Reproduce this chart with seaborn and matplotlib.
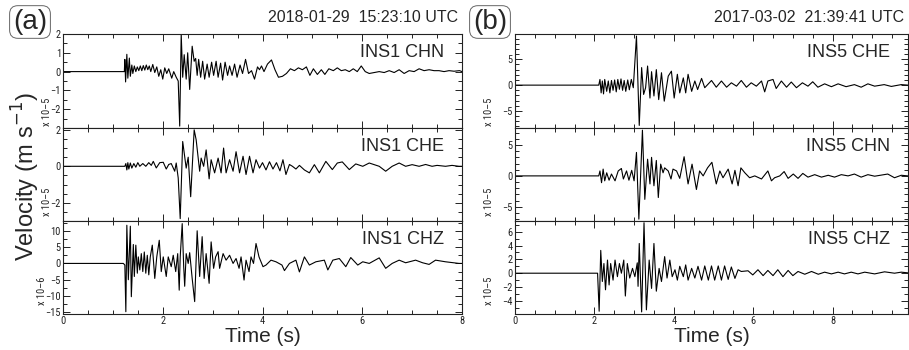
import numpy as np
import pandas as pd
import seaborn as sns
import matplotlib.pyplot as plt
from matplotlib import font_manager
from matplotlib.ticker import MultipleLocator, FixedLocator

# ---- panel (a): 2018-01-29, station INS1 ----
a_chn_t = [0.0, 1.23, 1.24, 1.255, 1.28, 1.30, 1.33, 1.35, 1.38, 1.40, 1.43, 1.46, 1.49, 1.52, 1.55,
           1.58, 1.61, 1.64, 1.67, 1.70, 1.73, 1.76, 1.80, 1.84, 1.88, 1.92, 1.96, 2.00, 2.04, 2.08,
           2.12, 2.18, 2.22, 2.27, 2.31, 2.34, 2.37, 2.40, 2.43, 2.47, 2.50, 2.54, 2.59, 2.63, 2.66,
           2.69, 2.72, 2.76, 2.80, 2.84, 2.89, 2.93, 2.98, 3.02, 3.07, 3.11, 3.16, 3.20, 3.25, 3.30,
           3.34, 3.39, 3.44, 3.49, 3.55, 3.60, 3.66, 3.72, 3.78, 3.84, 3.90, 3.94, 3.98, 4.03, 4.10,
           4.18, 4.25, 4.32, 4.40, 4.48, 4.56, 4.64, 4.72, 4.80, 4.88, 4.95, 5.02, 5.10, 5.18, 5.25,
           5.33, 5.42, 5.50, 5.58, 5.66, 5.74, 5.82, 5.90, 5.98, 6.06, 6.14, 6.24, 6.34, 6.44, 6.54,
           6.64, 6.74, 6.84, 6.94, 7.04, 7.14, 7.24, 7.34, 7.44, 7.54, 7.64, 7.74, 7.84, 7.95, 8.0]
a_chn_v = [0.0, 0.0, 0.65, -0.55, 0.92, -0.35, 0.72, -0.25, 0.35, -0.1, 0.3, 0.0, 0.25, 0.05, 0.3,
           0.05, 0.32, 0.08, 0.35, 0.1, 0.3, 0.0, 0.38, -0.05, 0.25, -0.25, 0.1, -0.4, 0.2, -0.1,
           0.15, -0.35, 0.0, -0.3, -0.5, -2.9, 2.0, -0.3, 0.9, -0.4, 1.0, -0.95, 1.35, 0.55, 0.7,
           -0.2, 0.65, -0.3, 0.55, -0.4, 0.4, -0.3, 0.5, -0.2, 0.55, -0.3, 0.45, -0.45, 0.5, -0.2,
           0.3, -0.2, 0.4, -0.3, 0.35, -0.1, 0.65, -0.1, 0.05, -0.4, 0.25, 0.1, 0.3, 0.0, 0.4,
           0.62, 0.1, -0.3, -0.25, -0.1, 0.15, 0.05, 0.2, 0.1, 0.25, -0.2, 0.15, -0.15, 0.1, -0.15,
           0.15, 0.05, 0.2, 0.05, 0.1, 0.0, 0.15, 0.0, 0.3, 0.0, -0.1, -0.05, 0.0, -0.05, 0.05,
           -0.05, 0.1, -0.1, 0.05, 0.0, 0.15, 0.05, 0.1, 0.05, 0.05, 0.0, 0.05, 0.02, 0.05, 0.0]

a_che_t = [0.0, 1.24, 1.26, 1.28, 1.30, 1.32, 1.35, 1.38, 1.42, 1.46, 1.50, 1.54, 1.60, 1.66, 1.72,
           1.77, 1.81, 1.87, 1.94, 2.01, 2.07, 2.12, 2.17, 2.24, 2.27, 2.31, 2.35, 2.40, 2.47, 2.51,
           2.56, 2.63, 2.67, 2.74, 2.77, 2.82, 2.87, 2.93, 2.97, 3.04, 3.11, 3.17, 3.22, 3.27, 3.34,
           3.41, 3.47, 3.54, 3.61, 3.67, 3.74, 3.81, 3.87, 3.94, 4.00, 4.07, 4.14, 4.21, 4.28, 4.35,
           4.41, 4.47, 4.54, 4.60, 4.67, 4.74, 4.84, 4.94, 5.04, 5.14, 5.27, 5.40, 5.50, 5.60, 5.74,
           5.87, 6.01, 6.14, 6.34, 6.47, 6.60, 6.74, 6.87, 7.00, 7.14, 7.27, 7.40, 7.50, 7.67, 7.80,
           7.94, 8.0]
a_che_v = [0.0, 0.0, 0.15, -0.2, 0.2, -0.15, 0.18, -0.1, 0.15, -0.05, 0.2, 0.0, 0.15, 0.0, 0.2,
           0.05, 0.27, -0.09, 0.2, 0.22, -0.15, 0.1, 0.15, -0.27, 0.18, -0.64, -2.87, 1.36, -0.1, 0.5,
           -1.67, 2.0, 1.45, -0.27, 0.45, 0.0, 0.9, -0.69, 0.36, -0.36, 0.45, -0.36, 1.0, -0.36, 0.36,
           -0.27, 0.8, -0.36, 0.55, -0.45, 0.55, -0.36, 0.36, -0.1, 0.2, -0.2, 0.25, -0.15, 0.2, -0.25,
           0.36, -0.45, 0.1, 0.0, -0.15, 0.05, -0.2, -0.36, 0.09, -0.36, 0.27, -0.18, 0.18, 0.24, -0.18,
           0.13, 0.0, 0.18, 0.0, -0.27, 0.0, 0.18, 0.0, 0.09, 0.0, 0.1, 0.0, 0.05, 0.0, 0.05,
           0.0, 0.0]

a_chz_t = [0.0, 1.21, 1.24, 1.26, 1.28, 1.31, 1.35, 1.37, 1.41, 1.43, 1.46, 1.49, 1.51, 1.54, 1.57,
           1.60, 1.63, 1.66, 1.69, 1.72, 1.75, 1.79, 1.84, 1.88, 1.93, 1.97, 2.01, 2.07, 2.11, 2.17,
           2.21, 2.26, 2.30, 2.33, 2.35, 2.39, 2.42, 2.44, 2.47, 2.51, 2.54, 2.59, 2.64, 2.69, 2.74,
           2.79, 2.83, 2.87, 2.93, 2.97, 3.02, 3.06, 3.11, 3.14, 3.21, 3.27, 3.34, 3.41, 3.47, 3.53,
           3.57, 3.63, 3.67, 3.73, 3.77, 3.82, 3.87, 3.93, 4.01, 4.07, 4.17, 4.27, 4.39, 4.44, 4.54,
           4.67, 4.74, 4.84, 4.94, 5.07, 5.24, 5.31, 5.41, 5.54, 5.67, 5.77, 5.91, 6.01, 6.14, 6.34,
           6.47, 6.60, 6.74, 6.87, 7.07, 7.21, 7.34, 7.47, 7.67, 7.94, 8.0]
a_chz_v = [0.0, 0.0, -0.5, -14.8, 11.7, -5.0, 11.4, -10.2, 5.8, -4.0, 5.6, -3.0, 2.0, -2.0, 3.0,
           -2.5, 3.5, -3.0, 2.5, -3.5, 2.0, 5.6, -4.6, 2.0, 7.1, -2.5, 2.0, -4.0, 2.0, -1.0,
           2.5, -2.5, 3.0, -8.2, 2.0, 12.2, -1.0, -7.0, 3.0, 0.0, 3.3, -4.6, -11.7, 10.0, -4.0,
           8.2, -4.6, 3.0, -6.1, 6.6, -1.5, 2.0, 3.6, -1.5, 3.0, 1.0, 2.5, 0.0, 1.5, -1.5,
           2.0, -5.1, 1.0, -2.5, 2.0, 0.0, 6.1, 2.0, -1.0, -0.5, 1.0, 0.5, -0.5, -2.2, 0.0,
           1.0, -2.6, 2.0, -0.5, 0.5, 1.0, -2.0, 1.0, 1.5, -1.0, 1.8, -0.5, 0.5, 0.0, 1.7,
           -1.5, 0.0, 1.0, 0.2, 1.0, 0.2, -0.3, 1.0, 0.5, 0.0, 0.0]

# ---- panel (b): 2017-03-02, station INS5 ----
b_che_t = [0.0, 2.11, 2.14, 2.17, 2.20, 2.23, 2.26, 2.31, 2.35, 2.39, 2.43, 2.47, 2.51, 2.55, 2.59,
           2.63, 2.67, 2.71, 2.75, 2.79, 2.84, 2.88, 2.93, 2.98, 3.06, 3.13, 3.19, 3.24, 3.29, 3.34,
           3.40, 3.44, 3.50, 3.56, 3.62, 3.69, 3.76, 3.86, 3.94, 4.01, 4.09, 4.15, 4.24, 4.30, 4.36,
           4.45, 4.53, 4.60, 4.70, 4.78, 4.95, 5.07, 5.20, 5.33, 5.45, 5.58, 5.70, 5.83, 5.95, 6.08,
           6.21, 6.29, 6.37, 6.50, 6.58, 6.71, 6.84, 6.96, 7.09, 7.24, 7.38, 7.50, 7.63, 7.80, 7.97,
           8.14, 8.34, 8.55, 8.72, 8.89, 9.06, 9.30, 9.48, 9.73, 9.9]
b_che_v = [0.0, 0.0, 1.1, -1.5, 0.8, -1.7, 1.1, -1.2, 0.8, -1.5, 0.9, -1.0, 1.0, -1.3, 1.1,
           -0.8, 1.2, -1.0, 0.9, -1.2, 1.0, -0.9, 1.1, -0.5, 9.5, -7.8, 3.4, -1.8, -0.5, 3.7,
           -2.5, 2.6, -2.1, 3.0, -2.8, 2.4, -3.1, 1.75, 2.7, -2.5, 2.1, -1.5, 1.4, -1.5, 2.1,
           -1.2, 0.8, -0.85, 1.3, -0.5, 0.9, -0.4, 0.8, -0.4, 0.45, -0.2, 0.9, -0.4, 0.45, -0.2,
           0.8, -1.3, 0.8, 1.1, -0.65, 0.8, -0.4, 0.6, -0.5, 0.45, -0.2, 0.65, -0.4, 0.25, -0.3,
           0.25, -0.3, 0.1, -0.4, 0.25, -0.2, 0.1, -0.25, 0.1, 0.0]

b_chn_t = [0.0, 2.11, 2.14, 2.18, 2.22, 2.26, 2.31, 2.37, 2.43, 2.52, 2.60, 2.68, 2.73, 2.81, 2.87,
           2.94, 3.00, 3.06, 3.12, 3.21, 3.27, 3.34, 3.40, 3.44, 3.50, 3.56, 3.61, 3.67, 3.73, 3.77,
           3.86, 3.93, 3.98, 4.07, 4.15, 4.26, 4.36, 4.46, 4.57, 4.65, 4.74, 4.85, 4.96, 5.07, 5.16,
           5.24, 5.37, 5.47, 5.54, 5.62, 5.69, 5.79, 5.91, 6.04, 6.21, 6.37, 6.46, 6.54, 6.67, 6.78,
           6.88, 7.01, 7.13, 7.25, 7.38, 7.55, 7.72, 7.89, 8.05, 8.22, 8.39, 8.55, 8.72, 8.89, 9.06,
           9.39, 9.56, 9.73, 9.9]
b_chn_v = [0.0, 0.0, 0.8, -1.1, 1.1, -0.8, 0.5, -0.7, 0.3, -0.8, 0.8, 1.2, -0.5, 0.8, -0.7,
           0.9, -0.8, 3.8, -7.0, 7.4, -3.8, 2.7, -1.3, 3.0, -1.6, 2.5, -3.5, 1.9, 0.5, 1.3,
           0.8, -0.5, 1.1, 0.8, -0.4, 3.1, -1.3, 1.9, -2.2, 0.8, 0.0, 1.3, 2.2, -1.3, 0.8,
           -0.3, 1.1, -1.3, 0.9, -1.6, 1.3, 0.5, -0.3, 0.0, -0.5, 0.8, -0.8, -0.3, 0.0, 0.7,
           -0.4, 0.3, -0.4, 0.4, -0.2, 0.2, -0.2, 0.1, -0.2, 0.2, 0.0, 0.3, -0.2, 0.2, -0.05,
           0.3, -0.3, 0.1, 0.0]

b_chz_t = [0.0, 2.08, 2.12, 2.16, 2.20, 2.24, 2.28, 2.33, 2.37, 2.41, 2.47, 2.52, 2.58, 2.63, 2.68,
           2.74, 2.78, 2.83, 2.89, 2.96, 3.02, 3.08, 3.10, 3.13, 3.19, 3.25, 3.31, 3.38, 3.44, 3.50,
           3.56, 3.63, 3.69, 3.77, 3.83, 3.90, 3.96, 4.03, 4.09, 4.15, 4.24, 4.30, 4.36, 4.45, 4.53,
           4.61, 4.70, 4.78, 4.87, 4.95, 5.03, 5.12, 5.20, 5.28, 5.37, 5.45, 5.54, 5.62, 5.70, 5.87,
           5.99, 6.12, 6.25, 6.37, 6.50, 6.62, 6.75, 6.88, 7.00, 7.13, 7.30, 7.47, 7.64, 7.80, 7.97,
           8.14, 8.30, 8.47, 8.64, 8.81, 9.06, 9.31, 9.56, 9.73, 9.9]
b_chz_v = [0.0, 0.0, -5.5, 3.3, -1.2, 1.4, -2.4, 1.9, -1.7, 1.4, -1.0, 1.9, -0.5, 1.4, 0.0,
           1.9, -3.3, 1.4, -0.7, 0.7, -0.5, 1.5, -1.9, 4.3, -5.6, 7.3, -5.3, 1.9, -2.2, 4.3,
           -2.6, 0.7, -1.2, 2.4, -0.7, 1.9, -0.5, 0.5, -1.0, 1.0, -0.5, 1.2, -1.0, 0.7, -0.7,
           1.0, -1.0, 1.05, -1.0, 1.05, -1.0, 1.05, -1.0, 1.05, -0.9, 0.9, -0.75, 0.5, 0.25, 0.35,
           -0.25, 0.5, -0.35, 0.4, -0.35, 0.5, -0.5, 0.4, -0.35, 0.25, -0.15, 0.25, -0.15, 0.15, -0.1,
           0.15, -0.1, 0.15, -0.1, 0.15, -0.1, 0.2, 0.0, 0.15, 0.05]

panels = [
    {
        'tag': '(a)', 'date': '2018-01-29  15:23:10 UTC', 'xmax': 8.0,
        'traces': [
            ('INS1 CHN', a_chn_t, a_chn_v, (-3.0, 2.0), [2, 1, 0, -1, -2], 0.5, 'x 10\u20135'),
            ('INS1 CHE', a_che_t, a_che_v, (-3.0, 2.1), [2, 0, -2], 0.5, 'x 10\u20135'),
            ('INS1 CHZ', a_chz_t, a_chz_v, (-15.5, 13.0), [10, 5, 0, -5, -10, -15], 2.5, 'x 10\u20136'),
        ],
    },
    {
        'tag': '(b)', 'date': '2017-03-02  21:39:41 UTC', 'xmax': 9.9,
        'traces': [
            ('INS5 CHE', b_che_t, b_che_v, (-8.3, 9.9), [5, 0, -5], 1.0, 'x 10\u20135'),
            ('INS5 CHN', b_chn_t, b_chn_v, (-7.3, 7.75), [5, 0, -5], 1.0, 'x 10\u20135'),
            ('INS5 CHZ', b_chz_t, b_chz_v, (-5.9, 7.55), [6, 4, 2, 0, -2, -4], 1.0, 'x 10\u20135'),
        ],
    },
]


def pick_family(candidates):
    # first family that is really installed, so tick labels come out condensed
    for name in candidates:
        try:
            font_manager.findfont(font_manager.FontProperties(family=name),
                                  fallback_to_default=False)
            return name
        except ValueError:
            continue
    return 'DejaVu Sans'


sns.set_theme(style='ticks')
plt.rcParams['font.family'] = ['Liberation Sans', 'DejaVu Sans']
plt.rcParams['axes.linewidth'] = 0.8
narrow = [pick_family(['Liberation Sans Narrow', 'DejaVu Sans Condensed', 'Roboto Condensed',
                       'Open Sans Condensed']), 'DejaVu Sans']
narrow_stretch = 'normal' if narrow[0] != 'DejaVu Sans' else 'condensed'

fig = plt.figure(figsize=(9.09, 3.5), dpi=100)
W, H = 909.0, 350.0

col_left = [63, 515]
col_right = [462, 908]
row_tops = [34, 128, 221]
row_bots = [128, 221, 314]
# x position (pixels) of the rotated multiplier label, per column and row
scale_x = [[47, 47, 42], [489, 489, 489]]
scale_y = [0.02, 0.05, 0.10]

for ci, panel in enumerate(panels):
    x0, x1 = col_left[ci], col_right[ci]
    for ri, (name, t, v, ylim, yticks, yminor, scale) in enumerate(panel['traces']):
        y_top, y_bot = row_tops[ri], row_bots[ri]
        ax = fig.add_axes([x0 / W, 1 - y_bot / H, (x1 - x0) / W, (y_bot - y_top) / H])
        df = pd.DataFrame({'t': t, 'v': v})
        sns.lineplot(data=df, x='t', y='v', ax=ax, color='black', linewidth=0.8,
                     sort=False, estimator=None)
        ax.set_xlim(0, panel['xmax'])
        ax.set_ylim(*ylim)
        ax.set_xlabel('')
        ax.set_ylabel('')
        ax.xaxis.set_major_locator(MultipleLocator(2))
        ax.xaxis.set_minor_locator(MultipleLocator(0.5))
        ax.yaxis.set_major_locator(FixedLocator(yticks))
        ax.yaxis.set_minor_locator(MultipleLocator(yminor))
        ax.tick_params(which='both', direction='in', top=True, right=True, width=0.7,
                       colors='#222222', labelsize=7.5, pad=1.5)
        ax.tick_params(which='major', length=5)
        ax.tick_params(which='minor', length=3)
        for lab in ax.get_yticklabels() + ax.get_xticklabels():
            lab.set_family(narrow)
            lab.set_stretch(narrow_stretch)
        if ri < 2:
            ax.set_xticklabels([])
        for s in ax.spines.values():
            s.set_color('#222222')
        ax.text(0.955, 0.80, name, transform=ax.transAxes, ha='right', va='center', fontsize=13)
        # multiplier label rotated next to the y tick labels
        ax.text((scale_x[ci][ri] - x0) / (x1 - x0), scale_y[ri], scale, transform=ax.transAxes,
                rotation=90, ha='center', va='bottom', fontsize=7.5, family=narrow,
                stretch=narrow_stretch)

    # panel tag and date
    tag_x = 30 if ci == 0 else 490
    fig.text(tag_x / W, 1 - 22 / H, panel['tag'], ha='center', va='center', fontsize=20,
             bbox=dict(boxstyle='round,pad=0.12,rounding_size=0.3', fc='white', ec='#666666', lw=0.7))
    fig.text((x1 - 4) / W, 1 - 17 / H, panel['date'], ha='right', va='center', fontsize=11.5)
    fig.text(((x0 + x1) / 2) / W, 1 - 336 / H, 'Time (s)', ha='center', va='center', fontsize=15)

fig.text(26 / W, 1 - 176 / H, 'Velocity (m s$^{-1}$)', rotation=90, ha='center', va='center', fontsize=17)

fig.savefig('out.png', dpi=100, facecolor='white')
